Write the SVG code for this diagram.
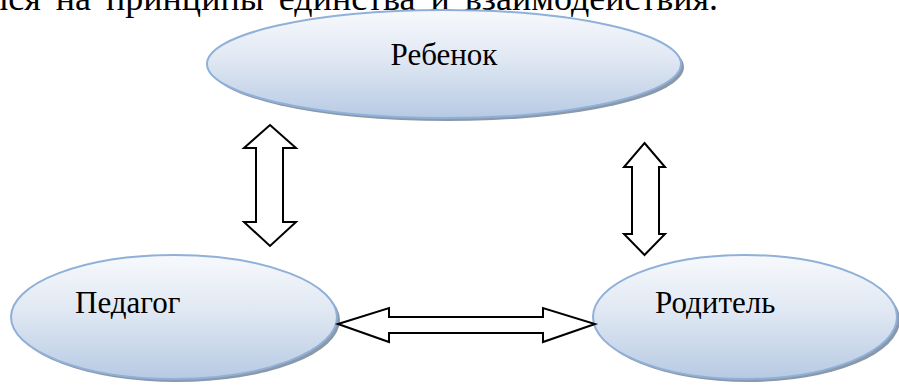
<svg xmlns="http://www.w3.org/2000/svg" width="899" height="385" viewBox="0 0 899 385">
<style>
text{font-family:"Liberation Serif","Times New Roman",serif;fill:#000}
.lbl{font-size:31px}
.top{font-size:36px;word-spacing:6px}
.el{fill:url(#g);stroke:#8fb0d9;stroke-width:2}
.sh{fill:#8a98a8}
.ar{fill:#fff;stroke:#000;stroke-width:2;stroke-linejoin:miter}
</style>
<defs>
<linearGradient id="g" x1="0" y1="0" x2="0" y2="1">
<stop offset="0" stop-color="#f7f9fc"/>
<stop offset="0.45" stop-color="#e0e8f3"/>
<stop offset="1" stop-color="#b7cae3"/>
</linearGradient>
</defs>
<text class="top" x="718" y="10" text-anchor="end">лся на принципы единства и взаимодействия.</text>
<g id="rebenok">
<ellipse class="sh" cx="447" cy="67" rx="237" ry="54"/>
<ellipse class="el" cx="444" cy="64" rx="237" ry="54"/>
<text class="lbl" x="444" y="65" text-anchor="middle">Ребенок</text>
</g>
<g id="pedagog">
<ellipse class="sh" cx="177" cy="320" rx="163" ry="62"/>
<ellipse class="el" cx="174" cy="317" rx="163" ry="62"/>
<text class="lbl" x="75" y="313">Педагог</text>
</g>
<g id="roditel">
<ellipse class="sh" cx="748" cy="320" rx="152" ry="62"/>
<ellipse class="el" cx="745" cy="317" rx="152" ry="62"/>
<text class="lbl" x="655" y="313">Родитель</text>
</g>
<g id="connectors">
<polygon class="ar" points="270,125 296,148 283,148 283,222 296,222 270,246 244,222 256,222 256,148 244,148"/>
<polygon class="ar" points="644.5,143 665,167 659,167 659,234 665,234 644.5,255 624,234 632,234 632,167 624,167"/>
<polygon class="ar" points="338,324 389,308 389,317 543,317 543,308 595,324 543,342 543,333 389,333 389,342"/>
</g>
</svg>
